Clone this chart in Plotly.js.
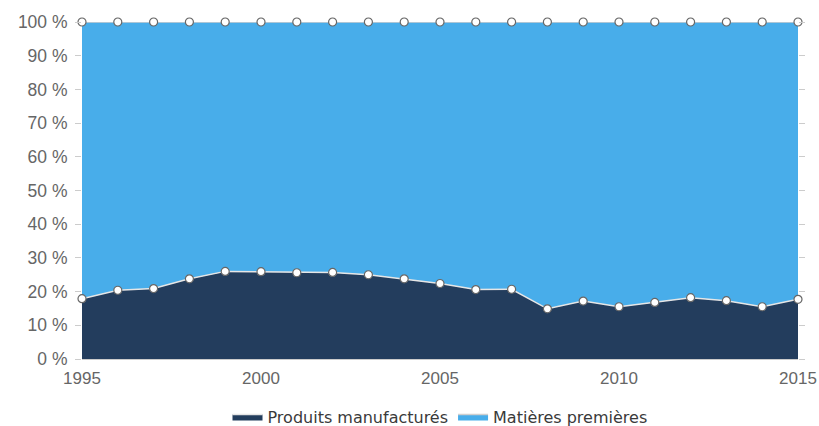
<!DOCTYPE html>
<html>
<head>
<meta charset="utf-8">
<script src="https://cdn.plot.ly/plotly-3.0.1.min.js"></script>
<style>html,body{margin:0;padding:0;background:#fff;}#chart{width:819px;height:426px;}</style>
</head>
<body>
<div id="chart"></div>
<script>
var years = [1995,1996,1997,1998,1999,2000,2001,2002,2003,2004,2005,2006,2007,2008,2009,2010,2011,2012,2013,2014,2015];
var produitsManufactures = [17.9,20.4,20.9,23.8,26.0,25.9,25.6,25.7,25.0,23.8,22.4,20.6,20.7,14.9,17.2,15.5,16.8,18.2,17.3,15.5,17.7];
var matieresPremieres = [82.1,79.6,79.1,76.2,74.0,74.1,74.4,74.3,75.0,76.2,77.6,79.4,79.3,85.1,82.8,84.5,83.2,81.8,82.7,84.5,82.3];
var xTicks = [1995,2000,2005,2010,2015];

var markerStyle = {size: 8, color: '#ffffff', line: {color: '#666666', width: 1.2}};
var traces = [
  {x: years, y: produitsManufactures, name: 'Produits manufacturés', type: 'scatter', mode: 'lines',
   stackgroup: 'area', fillcolor: '#233d5d', line: {color: '#e6e6e6', width: 1.5}, cliponaxis: false},
  {x: years, y: matieresPremieres, name: 'Matières premières', type: 'scatter', mode: 'lines',
   stackgroup: 'area', fillcolor: '#48adea', line: {color: '#cfcfcf', width: 1.5}, cliponaxis: false},
  {x: years, y: produitsManufactures, type: 'scatter', mode: 'markers', showlegend: false, hoverinfo: 'skip',
   stackgroup: 'pts', fill: 'none', marker: markerStyle, cliponaxis: false},
  {x: years, y: matieresPremieres, type: 'scatter', mode: 'markers', showlegend: false, hoverinfo: 'skip',
   stackgroup: 'pts', fill: 'none', marker: markerStyle, cliponaxis: false}
];
var layout = {
  width: 819, height: 426,
  margin: {l: 82, r: 21, t: 22, b: 67},
  paper_bgcolor: '#fff', plot_bgcolor: '#fff',
  showlegend: true,
  legend: {orientation: 'h', x: 0.5, xanchor: 'center', xref: 'paper', yref: 'container', y: 0.022, yanchor: 'middle',
    font: {family: 'DejaVu Sans', size: 16, color: '#3a3a3a'}, traceorder: 'normal', itemwidth: 30},
  xaxis: {range: [1995, 2015], tickvals: xTicks, ticktext: xTicks.map(String), showgrid: false, zeroline: false,
    showline: true, linecolor: '#cccccc', linewidth: 1, ticks: '', ticklabelstandoff: 4,
    tickfont: {family: 'Liberation Sans', size: 17, color: '#666'}},
  yaxis: {range: [0, 100], dtick: 10, ticksuffix: ' %', showgrid: false, zeroline: false, showline: false,
    ticks: 'outside', ticklen: 6, tickcolor: '#cccccc', mirror: 'ticks', ticklabelstandoff: 4,
    tickfont: {family: 'Liberation Sans', size: 17.5, color: '#666'}}
};
Plotly.newPlot('chart', traces, layout, {displayModeBar: false});
</script>
</body>
</html>
